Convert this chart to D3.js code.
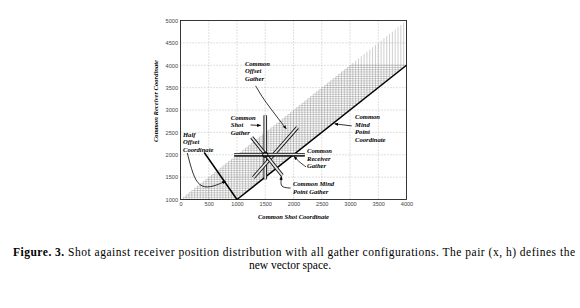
<!DOCTYPE html>
<html><head><meta charset="utf-8">
<script src="https://cdn.jsdelivr.net/npm/d3@7"></script>
<style>
html,body{margin:0;padding:0;background:#fff;}
svg{display:block;}
</style></head>
<body>
<svg id="chart" width="580" height="308"></svg>
<script>
// ---------------- data ----------------
const xTicks = [0, 500, 1000, 1500, 2000, 2500, 3000, 3500, 4000];
const yTicks = [1000, 1500, 2000, 2500, 3000, 3500, 4000, 4500, 5000];
const xDomain = [0, 4000];
const yDomain = [1000, 5000];
// acquisition grid (shot and receiver stations)
const shotPositions = [0,50,100,150,200,250,300,350,400,450,500,550,600,650,700,750,800,850,900,950,
  1000,1050,1100,1150,1200,1250,1300,1350,1400,1450,1500,1550,1600,1650,1700,1750,1800,1850,1900,1950,
  2000,2050,2100,2150,2200,2250,2300,2350,2400,2450,2500,2550,2600,2650,2700,2750,2800,2850,2900,2950,
  3000,3050,3100,3150,3200,3250,3300,3350,3400,3450,3500,3550,3600,3650,3700,3750,3800,3850,3900,3950,4000];
const receiverPositions = [1000,1050,1100,1150,1200,1250,1300,1350,1400,1450,1500,1550,1600,1650,1700,1750,1800,1850,1900,1950,
  2000,2050,2100,2150,2200,2250,2300,2350,2400,2450,2500,2550,2600,2650,2700,2750,2800,2850,2900,2950,
  3000,3050,3100,3150,3200,3250,3300,3350,3400,3450,3500,3550,3600,3650,3700,3750,3800,3850,3900,3950,4000];
const maxOffset = 1000;
// boundary lines
const midPointCoordLine = [[1000, 1000], [4000, 4000]];
const halfOffsetCoordLine = [[420, 2050], [1000, 1000]];
// gather configurations (shot, receiver end points)
const commonReceiverGather = [[950, 2000], [2200, 2000]];
const commonShotGather = [[1500, 1450], [1500, 2880]];
const commonOffsetGather = [[1290, 1490], [2070, 2610]];
const commonMidPointGather = [[1260, 2390], [1800, 1540]];
const centerPoint = [1500, 2000];
// annotations: label lines, anchor (shot, receiver), pointer path
const annotations = [
  {lines: ["Common", "Offset", "Gather"], at: [1140, 3990],
   pointer: [[1330, 3540], [1440, 3300], [1590, 3040], [1870, 2580]]},
  {lines: ["Common", "Shot", "Gather"], at: [890, 2780],
   pointer: [[1240, 2665], [1420, 2655]]},
  {lines: ["Half", "Offset", "Coordinate"], at: [44, 2400],
   pointer: [[120, 2040], [220, 1550], [330, 1300], [520, 1255], [800, 1410]]},
  {lines: ["Common", "Mind", "Point", "Coordinate"], at: [3090, 2800],
   pointer: [[3030, 2645], [2730, 2690]]},
  {lines: ["Common", "Receiver", "Gather"], at: [2240, 2040],
   pointer: [[2220, 1730], [2080, 1860], [2010, 1965]]},
  {lines: ["Common Mind", "Point Gather"], at: [1990, 1300],
   pointer: [[1950, 1255], [1790, 1270], [1775, 1370], [1785, 1520]]}
];
const xLabel = "Common Shot Coordinate";
const yLabel = "Common Receiver Coordinate";
const captionBold = "Figure. 3.";
const captionLine1 = " Shot against receiver position distribution with all gather configurations. The pair (x, h) defines the";
const captionLine2 = "new vector space.";

// ---------------- drawing ----------------
const svg = d3.select("#chart");
const L = 180.5, R = 406.5, T = 20.5, B = 199.5;
const x = d3.scaleLinear().domain(xDomain).range([L, R]);
const y = d3.scaleLinear().domain(yDomain).range([B, T]);
const serif = "Liberation Serif";
const sans = "Liberation Sans";

// arrow marker
svg.append("defs").append("marker")
  .attr("id", "arr").attr("viewBox", "0 0 10 10").attr("refX", 9).attr("refY", 5)
  .attr("markerWidth", 5).attr("markerHeight", 5).attr("orient", "auto-start-reverse")
  .append("path").attr("d", "M0,1 L10,5 L0,9 z").attr("fill", "#000");

// grid
const grid = svg.append("g");
grid.selectAll("line.v").data(xTicks.slice(1, -1)).join("line")
  .attr("x1", d => x(d)).attr("x2", d => x(d)).attr("y1", T).attr("y2", B)
  .attr("stroke", "#999").attr("stroke-width", 0.6).attr("stroke-dasharray", "1,2");
grid.selectAll("line.h").data(yTicks.slice(1, -1)).join("line")
  .attr("y1", d => y(d)).attr("y2", d => y(d)).attr("x1", L).attr("x2", R)
  .attr("stroke", "#999").attr("stroke-width", 0.6).attr("stroke-dasharray", "1,2");

// shading: shot lines (vertical) and receiver lines (horizontal)
const shade = svg.append("g");
shade.selectAll("line.s").data(shotPositions).join("line")
  .attr("x1", d => x(d)).attr("x2", d => x(d))
  .attr("y1", d => y(Math.max(yDomain[0], d))).attr("y2", d => y(d + maxOffset))
  .attr("stroke", "#777").attr("stroke-width", 0.6).attr("stroke-opacity", 0.6);
shade.selectAll("line.r").data(receiverPositions).join("line")
  .attr("y1", d => y(d)).attr("y2", d => y(d))
  .attr("x1", d => x(Math.max(xDomain[0], d - maxOffset))).attr("x2", d => x(Math.min(xDomain[1], d)))
  .attr("stroke", "#777").attr("stroke-width", 0.6).attr("stroke-opacity", 0.6);

// frame
svg.append("rect").attr("x", L).attr("y", T).attr("width", R - L).attr("height", B - T)
  .attr("fill", "none").attr("stroke", "#222").attr("stroke-width", 0.9);

// axes tick labels
const xAxis = d3.axisBottom(x).tickValues(xTicks).tickSize(0).tickPadding(3).tickFormat(d3.format("d"));
const yAxis = d3.axisLeft(y).tickValues(yTicks).tickSize(0).tickPadding(2.5).tickFormat(d3.format("d"));
const gx = svg.append("g").attr("transform", `translate(0,${B})`).call(xAxis);
const gy = svg.append("g").attr("transform", `translate(${L},0)`).call(yAxis);
[gx, gy].forEach(g => {
  g.select(".domain").remove();
  g.selectAll("text").attr("font-family", sans).attr("font-size", 5.6).attr("fill", "#444");
});

// main lines
const line = d3.line().x(d => x(d[0])).y(d => y(d[1]));
svg.append("path").attr("d", line(midPointCoordLine)).attr("fill", "none").attr("stroke", "#000").attr("stroke-width", 1.5);
svg.append("path").attr("d", line(halfOffsetCoordLine)).attr("fill", "none").attr("stroke", "#000").attr("stroke-width", 1.5);

// gather bars (double-line)
function bar(pts) {
  svg.append("path").attr("d", line(pts)).attr("fill", "none").attr("stroke", "#111").attr("stroke-width", 3.6);
  svg.append("path").attr("d", line(pts)).attr("fill", "none").attr("stroke", "#e6e6e6").attr("stroke-width", 1.8);
}
bar(commonShotGather);
bar(commonOffsetGather);
bar(commonMidPointGather);
bar(commonReceiverGather);
svg.append("path").attr("d", line(commonReceiverGather)).attr("transform", "translate(0,1)")
  .attr("fill", "none").attr("stroke", "#000").attr("stroke-width", 1.2);
svg.append("circle").attr("cx", x(centerPoint[0])).attr("cy", y(centerPoint[1])).attr("r", 2.6)
  .attr("fill", "none").attr("stroke", "#000").attr("stroke-width", 1);

// annotations
const curve = d3.line().x(d => x(d[0])).y(d => y(d[1])).curve(d3.curveBasis);
annotations.forEach(a => {
  svg.append("path").attr("d", curve(a.pointer)).attr("fill", "none")
    .attr("stroke", "#000").attr("stroke-width", 0.8).attr("marker-end", "url(#arr)");
  const t = svg.append("text").attr("x", x(a.at[0])).attr("y", y(a.at[1]))
    .attr("font-family", serif).attr("font-style", "italic").attr("font-weight", "bold")
    .attr("font-size", 6.6).attr("fill", "#000");
  a.lines.forEach((s, i) => t.append("tspan").attr("x", x(a.at[0])).attr("dy", i ? 7.6 : 0).text(s));
});

// axis titles
svg.append("text").attr("x", (L + R) / 2).attr("y", 219).attr("text-anchor", "middle")
  .attr("font-family", serif).attr("font-style", "italic").attr("font-weight", "bold")
  .attr("font-size", 6.6).text(xLabel);
svg.append("text").attr("transform", "translate(158,101) rotate(-90)").attr("text-anchor", "middle")
  .attr("font-family", serif).attr("font-style", "italic").attr("font-weight", "bold")
  .attr("font-size", 6.6).text(yLabel);

// caption
const capSize = 11.5;
const cap = svg.append("text").attr("x", 13).attr("y", 255.5).attr("font-family", serif)
  .attr("font-size", capSize).attr("fill", "#000")
  .attr("textLength", 562).attr("lengthAdjust", "spacing");
cap.append("tspan").attr("font-weight", "bold").text(captionBold);
cap.append("tspan").text(captionLine1);
svg.append("text").attr("x", 290).attr("y", 269).attr("text-anchor", "middle")
  .attr("font-family", serif).attr("font-size", capSize).text(captionLine2);
</script>
</body></html>
